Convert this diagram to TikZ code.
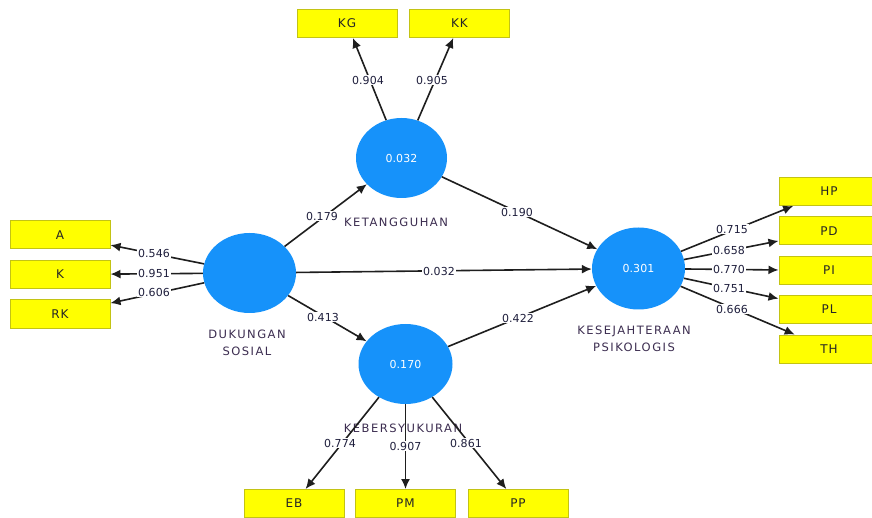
\documentclass[tikz,border=0pt]{standalone}
\usepackage{fontspec}
\setmainfont{DejaVu Sans}
\newfontfamily\latfont[LetterSpace=13]{DejaVu Sans}
\newfontfamily\numfont[LetterSpace=1]{DejaVu Sans}
\newfontfamily\boxfont[LetterSpace=8]{DejaVu Sans}
\usetikzlibrary{arrows.meta,shapes.geometric}
\definecolor{lvblue}{RGB}{22,146,250}
\definecolor{boxyellow}{RGB}{255,255,0}
\definecolor{boxborder}{RGB}{195,195,20}
\definecolor{linecol}{RGB}{30,30,30}
\definecolor{numdark}{RGB}{30,30,60}
\definecolor{namecol}{RGB}{60,45,80}
\tikzset{
  lv/.style={ellipse, fill=lvblue, minimum width=93pt, minimum height=80pt, inner sep=0pt,
    text=white, font=\numfont\fontsize{11}{13}\selectfont},
  ind/.style={rectangle, fill=boxyellow, draw=boxborder, line width=1pt, minimum width=100pt,
    minimum height=28pt, inner sep=0pt, font=\boxfont\fontsize{12}{14}\selectfont, text=black!85},
  coef/.style={fill=white, inner sep=1pt, font=\numfont\fontsize{11}{13}\selectfont, text=numdark},
  lvname/.style={font=\latfont\fontsize{11.5}{17.5}\selectfont, text=namecol, align=center, inner sep=0pt},
  arr/.style={draw=linecol, line width=1.6pt, -{Latex[length=10pt,width=9pt]}}
}
\begin{document}
\begin{tikzpicture}[x=1pt,y=-1pt]
\clip (0,0) rectangle (872,518);
\fill[white] (0,0) rectangle (872,518);
% latent variables
\node[lv, minimum width=93pt, minimum height=80pt] (ds) at (249.5,273) {};
\node[lv, minimum width=91pt, minimum height=80pt] (ket) at (401.5,158) {0.032};
\node[lv, minimum width=93pt, minimum height=82pt] (kes) at (638.5,268.5) {0.301};
\node[lv, minimum width=94pt, minimum height=80pt] (keb) at (405.5,364) {0.170};
% latent names
\node[lvname] (nds) at (247,343) {DUKUNGAN\\SOSIAL};
\node[lvname] (nket) at (396,222) {KETANGGUHAN};
\node[lvname] (nkes) at (634,339) {KESEJAHTERAAN\\PSIKOLOGIS};
\node[lvname] (nkeb) at (403,428) {KEBERSYUKURAN};
% indicators
\node[ind] (KG) at (347,23.5) {KG};
\node[ind] (KK) at (459.5,23.5) {KK};
\node[ind] (A) at (60,235) {A};
\node[ind] (K) at (60,274.5) {K};
\node[ind] (RK) at (60,314) {RK};
\node[ind] (HP) at (829,191.5) {HP};
\node[ind] (PD) at (829,231) {PD};
\node[ind] (PI) at (829,270.5) {PI};
\node[ind] (PL) at (829,309.5) {PL};
\node[ind] (TH) at (829,349) {TH};
\node[ind] (EB) at (294,503.5) {EB};
\node[ind] (PM) at (405.5,503.5) {PM};
\node[ind] (PP) at (518,503.5) {PP};
% connectors
\draw[arr] (ket) -- (KG);
\draw[arr] (ket) -- (KK);
\draw[arr] (ds) -- (A);
\draw[arr] (ds) -- (K);
\draw[arr] (ds) -- (RK);
\draw[arr] (kes) -- (HP);
\draw[arr] (kes) -- (PD);
\draw[arr] (kes) -- (PI);
\draw[arr] (kes) -- (PL);
\draw[arr] (kes) -- (TH);
\draw[arr] (keb) -- (EB);
\draw[arr] (keb) -- (PM);
\draw[arr] (keb) -- (PP);
\draw[arr] (ds) -- (ket);
\draw[arr] (ds) -- (kes);
\draw[arr] (ds) -- (keb);
\draw[arr] (ket) -- (kes);
\draw[arr] (keb) -- (kes);
% coefficients
\node[coef] (c1) at (322,216) {0.179};
\node[coef] (c2) at (517,212) {0.190};
\node[coef] (c3) at (439,271) {0.032};
\node[coef] (c4) at (323,317) {0.413};
\node[coef] (c5) at (518,318) {0.422};
\node[coef] (c6) at (368,80) {0.904};
\node[coef] (c7) at (432,80) {0.905};
\node[coef] (c8) at (154,253) {0.546};
\node[coef] (c9) at (154,273.5) {0.951};
\node[coef] (c10) at (154,292) {0.606};
\node[coef] (c11) at (732,229) {0.715};
\node[coef] (c12) at (729,250) {0.658};
\node[coef] (c13) at (729,269) {0.770};
\node[coef] (c14) at (729,288) {0.751};
\node[coef] (c15) at (732,309) {0.666};
\node[coef] (c16) at (340,443) {0.774};
\node[coef] (c17) at (405.5,446) {0.907};
\node[coef] (c18) at (466,443) {0.861};
\end{tikzpicture}
\end{document}
